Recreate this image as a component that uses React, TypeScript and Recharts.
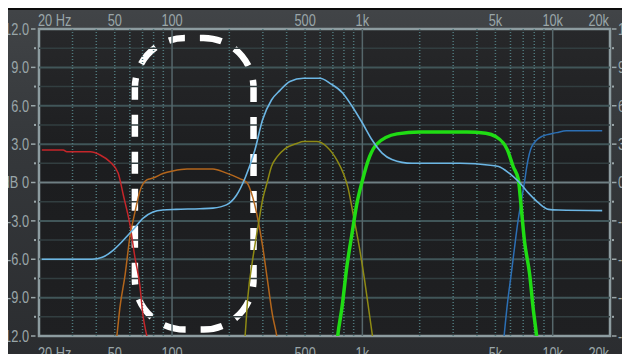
import React from 'react';
import { LineChart, Line, XAxis, YAxis, ReferenceLine, ReferenceArea } from 'recharts';

const FONT = "'Liberation Sans', Arimo, Arial, sans-serif";
const LABEL = '#9aa6a9';
const SX = 0.8;

const freqTicks = [20, 50, 100, 500, 1000, 5000, 10000, 20000];
const freqTickLabels = ['20 Hz', '50', '100', '500', '1k', '5k', '10k', '20k'];
const dbTicks = [-12, -10.5, -9, -7.5, -6, -4.5, -3, -1.5, 0, 1.5, 3, 4.5, 6, 7.5, 9, 10.5, 12];

const gridMajorDb = [-9, -6, -3, 3, 6, 9];
const gridMinorDb = [-10.5, -7.5, -4.5, -1.5, 1.5, 4.5, 7.5, 10.5];
const gridMajorFreq = [100, 1000, 10000];
const gridMinorFreq = [30, 40, 50, 60, 70, 80, 90, 200, 300, 400, 500, 600, 700, 800, 900, 2000, 3000, 4000, 5000, 6000, 7000, 8000, 9000];

const sumFreq = [20.7, 30, 38, 43, 49, 55.6, 62.3, 70.3, 79.4, 89.6, 105, 140, 164, 193, 218, 242, 272, 299, 333, 369, 416, 490, 600, 676, 788, 888, 1000, 1127, 1270, 1430, 1825, 3270, 4700, 5200, 5880, 6640, 7490, 8440, 9500, 10700, 18200];
const sumDb = [-6, -6, -6, -5.85, -5.3, -4.5, -3.7, -2.8, -2.3, -2.15, -2.1, -2.05, -2.0, -1.75, -1.0, 0.35, 2.5, 4.9, 6.45, 7.2, 7.9, 8.15, 8.15, 7.75, 7.0, 5.9, 4.65, 3.3, 2.3, 1.8, 1.5, 1.5, 1.35, 1.25, 0.75, 0.05, -0.85, -1.6, -2.1, -2.15, -2.2];

const redFreq = [20.7, 26.8, 28, 37.2, 41.9, 47.3, 52.1, 55.5, 60.1, 63.9, 67.7, 70.3, 73.7, 77];
const redDb = [2.55, 2.55, 2.4, 2.4, 2.15, 1.6, 0.75, -1.0, -3.3, -5.9, -8.0, -10.35, -12, -13.5];

const orangeFreq = [49, 51.3, 53.2, 56.7, 60, 63.9, 67.7, 73.7, 79.5, 89.5, 101, 120, 164, 192, 227, 247, 266, 284, 300, 318, 337, 355, 370];
const orangeDb = [-14, -12, -9.8, -7.2, -4.3, -2.3, -0.7, 0.2, 0.35, 0.7, 0.9, 1.05, 1.05, 0.75, 0.3, 0.0, -1.2, -3.05, -5.1, -7.75, -10.35, -12, -14];

const oliveFreq = [235, 242, 250, 266, 284, 300, 316, 333, 356, 393, 452, 490, 575, 650, 735, 800, 840, 890, 965, 1030, 1090, 1130, 1180];
const oliveDb = [-14, -12, -9, -5.9, -3.3, -1.25, 0.0, 1.25, 2.0, 2.65, 3.05, 3.2, 3.2, 2.8, 1.75, 0.6, -0.4, -2.3, -5.1, -7.75, -10.35, -12, -14];

const greenFreq = [720, 742, 781, 831, 880, 933, 996, 1090, 1190, 1520, 2000, 3540, 4450, 5010, 5780, 6200, 6610, 6740, 7110, 7570, 7890, 8230, 8500];
const greenDb = [-14, -12, -9.8, -6.45, -4.1, -1.75, 0.05, 2.0, 3.0, 3.8, 3.95, 3.95, 3.85, 3.6, 2.55, 1.25, 0.2, -1.0, -4.6, -7.2, -9.8, -12, -14];

const blueFreq = [5400, 5580, 5810, 6050, 6300, 6560, 6830, 7110, 7300, 7760, 8770, 10500, 11800, 18200];
const blueDb = [-14, -11.7, -9.2, -7.2, -5.1, -3.1, -1.5, 0.05, 1.2, 2.8, 3.6, 3.9, 4.05, 4.05];

const markFreq = [63.8, 268];
const markDb = [-11.5, 11.3];

const toPoints = (fs: number[], ds: number[]) => fs.map((f, i) => ({ f, db: ds[i] }));

const sumData = toPoints(sumFreq, sumDb);
const redData = toPoints(redFreq, redDb);
const orangeData = toPoints(orangeFreq, orangeDb);
const oliveData = toPoints(oliveFreq, oliveDb);
const greenData = toPoints(greenFreq, greenDb);
const blueData = toPoints(blueFreq, blueDb);

const fmtDb = (v: number) => (v < 0 ? '-' : '') + Math.abs(v).toFixed(1);

const NarrowText = ({ x, y, anchor, children, dy }: any) => (
  <g transform={`translate(${x},${y}) scale(${SX},1)`}>
    <text x={0} y={0} dy={dy} textAnchor={anchor} fill={LABEL} fontSize={16} fontFamily={FONT}>
      {children}
    </text>
  </g>
);

const makeXTick = (dy: number) => (props: any) => {
  const { x, y, payload } = props;
  const i = freqTicks.indexOf(payload.value);
  const anchor = i === 0 ? 'start' : i === freqTicks.length - 1 ? 'end' : 'middle';
  const dx = i === 0 ? -1 : i === freqTicks.length - 1 ? -1 : 0;
  return (
    <NarrowText x={x + dx} y={y + dy} anchor={anchor}>
      {freqTickLabels[i]}
    </NarrowText>
  );
};

const LeftTick = (props: any) => {
  const { x, y, payload } = props;
  const v = payload.value;
  if (Math.abs(v % 3) > 0.01) {
    return <rect x={x - 5} y={y - 1} width={2} height={2} fill={LABEL} />;
  }
  return (
    <g>
      <NarrowText x={x - 10} y={y} dy="0.36em" anchor="end">
        {v === 0 ? 'dB 0' : fmtDb(v)}
      </NarrowText>
      <line x1={x - 8} x2={x - 3.5} y1={y} y2={y} stroke={LABEL} strokeWidth={1.5} />
    </g>
  );
};

const RightTick = (props: any) => {
  const { x, y, payload } = props;
  const v = payload.value;
  if (Math.abs(v % 3) > 0.01) {
    return <rect x={x + 2} y={y - 1} width={2} height={2} fill={LABEL} />;
  }
  return (
    <g>
      <line x1={x + 2} x2={x + 6.5} y1={y} y2={y} stroke={LABEL} strokeWidth={1.5} />
      <NarrowText x={x + 8} y={y} dy="0.36em" anchor="start">
        {v === 0 ? '0 dB' : fmtDb(v)}
      </NarrowText>
    </g>
  );
};

const PlotBg = (p: any) => (
  <g>
    <defs>
      <linearGradient id="plotBg" x1="0" y1="0" x2="0" y2="1">
        <stop offset="0" stopColor="#27282a" />
        <stop offset="0.45" stopColor="#1c1d1f" />
        <stop offset="1" stopColor="#1f2022" />
      </linearGradient>
    </defs>
    <rect x={p.x} y={p.y} width={p.width} height={p.height} fill="url(#plotBg)" />
  </g>
);

const MarkShape = (p: any) => (
  <rect
    x={p.x}
    y={p.y}
    width={p.width}
    height={p.height}
    rx={50}
    ry={50}
    fill="none"
    stroke="#ffffff"
    strokeWidth={6.5}
    strokeDasharray="22 15"
    strokeDashoffset={22}
  />
);

export default function App() {
  return (
    <div
      style={{
        width: 622,
        height: 346,
        overflow: 'hidden',
        background: 'linear-gradient(to bottom, #0c0c0c 0px, #0c0c0c 2.5px, #414447 2.5px, #35383b 40%, #2b2d30 100%)',
      }}
    >
      <LineChart width={622} height={346} margin={{ top: 0, right: 0, bottom: 0, left: 0 }} style={{ overflow: 'hidden' }}>
        <XAxis
          xAxisId="top"
          orientation="top"
          type="number"
          dataKey="f"
          scale="log"
          domain={[20, 20000]}
          allowDataOverflow
          ticks={freqTicks}
          interval={0}
          height={21}
          axisLine={false}
          tickLine={false}
          tickSize={0}
          tickMargin={0}
          tick={makeXTick(-3.5)}
        />
        <XAxis
          type="number"
          dataKey="f"
          scale="log"
          domain={[20, 20000]}
          allowDataOverflow
          ticks={freqTicks}
          interval={0}
          height={18}
          axisLine={false}
          tickLine={false}
          tickSize={0}
          tickMargin={0}
          tick={makeXTick(22.5)}
        />
        <YAxis
          type="number"
          domain={[-12, 12]}
          allowDataOverflow
          ticks={dbTicks}
          interval={0}
          width={31}
          axisLine={false}
          tickLine={false}
          tickSize={0}
          tickMargin={0}
          tick={LeftTick}
        />
        <YAxis
          yAxisId="right"
          orientation="right"
          type="number"
          domain={[-12, 12]}
          allowDataOverflow
          ticks={dbTicks}
          interval={0}
          width={20}
          axisLine={false}
          tickLine={false}
          tickSize={0}
          tickMargin={0}
          tick={RightTick}
        />
        <ReferenceArea x1={20} x2={20000} y1={-12} y2={12} shape={PlotBg} />
        {gridMinorDb.map((v) => (
          <ReferenceLine key={'hm' + v} y={v} stroke="#323e40" strokeWidth={1.5} />
        ))}
        {gridMajorDb.map((v) => (
          <ReferenceLine key={'hM' + v} y={v} stroke="#415659" strokeWidth={2} />
        ))}
        {gridMinorFreq.map((v) => (
          <ReferenceLine key={'vm' + v} x={v} stroke="#4f787c" strokeWidth={1.5} strokeDasharray="1 2" />
        ))}
        {gridMajorFreq.map((v) => (
          <ReferenceLine key={'vM' + v} x={v} stroke="#56676b" strokeWidth={1.5} />
        ))}
        <ReferenceLine y={0} stroke="#6f7f83" strokeWidth={2} />
        <ReferenceArea x1={20} x2={20000} y1={-12} y2={12} fill="none" stroke="#8d9ca0" strokeWidth={2.5} />
        <Line data={redData} dataKey="db" type="monotone" stroke="#c4262a" strokeWidth={1.5} dot={false} activeDot={false} isAnimationActive={false} />
        <Line data={orangeData} dataKey="db" type="monotone" stroke="#b3661c" strokeWidth={1.5} dot={false} activeDot={false} isAnimationActive={false} />
        <Line data={oliveData} dataKey="db" type="monotone" stroke="#8e8a14" strokeWidth={1.5} dot={false} activeDot={false} isAnimationActive={false} />
        <Line data={blueData} dataKey="db" type="monotone" stroke="#2c6fb4" strokeWidth={1.5} dot={false} activeDot={false} isAnimationActive={false} />
        <Line data={greenData} dataKey="db" type="monotone" stroke="#20dc14" strokeWidth={3.5} dot={false} activeDot={false} isAnimationActive={false} />
        <Line data={sumData} dataKey="db" type="monotone" stroke="#6cb6e4" strokeWidth={1.6} dot={false} activeDot={false} isAnimationActive={false} />
        <ReferenceArea x1={markFreq[0]} x2={markFreq[1]} y1={markDb[0]} y2={markDb[1]} shape={MarkShape} />
      </LineChart>
    </div>
  );
}
